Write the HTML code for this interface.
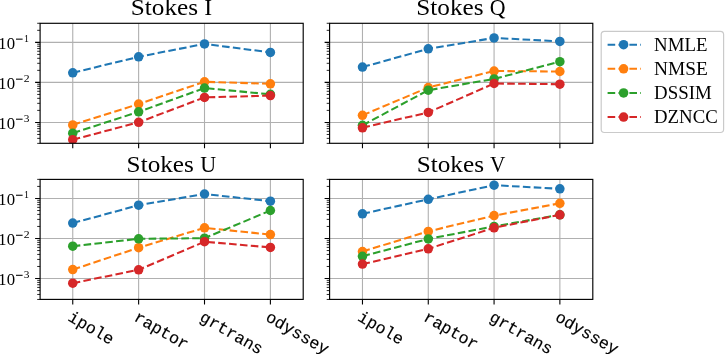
<!DOCTYPE html>
<html><head><meta charset="utf-8"><style>
html,body{margin:0;padding:0;background:#fff;}
body{width:725px;height:354px;overflow:hidden;font-family:"Liberation Sans",sans-serif;}
svg{display:block;}
svg{will-change:transform;}
</style></head><body>
<svg width="725" height="354" viewBox="0 0 725 354">
<rect width="725" height="354" fill="#fff"/>
<path d="M72.75 23.30V143.30M138.63 23.30V143.30M204.51 23.30V143.30M270.39 23.30V143.30M40.10 42.37H303.20M40.10 82.40H303.20M40.10 122.43H303.20" stroke="#b0b0b0" stroke-width="1.1" fill="none"/>
<clipPath id="cI"><rect x="40.1" y="23.3" width="263.10" height="120.00"/></clipPath>
<g clip-path="url(#cI)">
<polyline points="72.75,72.80 138.63,56.80 204.51,43.90 270.39,52.40" fill="none" stroke="#1f77b4" stroke-width="2.06" stroke-dasharray="7.6 3.3"/>
<circle cx="72.75" cy="72.80" r="4.75" fill="#1f77b4"/>
<circle cx="138.63" cy="56.80" r="4.75" fill="#1f77b4"/>
<circle cx="204.51" cy="43.90" r="4.75" fill="#1f77b4"/>
<circle cx="270.39" cy="52.40" r="4.75" fill="#1f77b4"/>
<polyline points="72.75,124.90 138.63,104.00 204.51,81.80 270.39,83.80" fill="none" stroke="#ff7f0e" stroke-width="2.06" stroke-dasharray="7.6 3.3"/>
<circle cx="72.75" cy="124.90" r="4.75" fill="#ff7f0e"/>
<circle cx="138.63" cy="104.00" r="4.75" fill="#ff7f0e"/>
<circle cx="204.51" cy="81.80" r="4.75" fill="#ff7f0e"/>
<circle cx="270.39" cy="83.80" r="4.75" fill="#ff7f0e"/>
<polyline points="72.75,133.20 138.63,111.80 204.51,88.10 270.39,94.30" fill="none" stroke="#2ca02c" stroke-width="2.06" stroke-dasharray="7.6 3.3"/>
<circle cx="72.75" cy="133.20" r="4.75" fill="#2ca02c"/>
<circle cx="138.63" cy="111.80" r="4.75" fill="#2ca02c"/>
<circle cx="204.51" cy="88.10" r="4.75" fill="#2ca02c"/>
<circle cx="270.39" cy="94.30" r="4.75" fill="#2ca02c"/>
<polyline points="72.75,139.70 138.63,122.30 204.51,97.40 270.39,95.60" fill="none" stroke="#d62728" stroke-width="2.06" stroke-dasharray="7.6 3.3"/>
<circle cx="72.75" cy="139.70" r="4.75" fill="#d62728"/>
<circle cx="138.63" cy="122.30" r="4.75" fill="#d62728"/>
<circle cx="204.51" cy="97.40" r="4.75" fill="#d62728"/>
<circle cx="270.39" cy="95.60" r="4.75" fill="#d62728"/>
</g>
<rect x="40.10" y="23.30" width="263.10" height="120.00" fill="none" stroke="#000" stroke-width="1.15"/>
<path d="M72.75 143.30v5.0M138.63 143.30v5.0M204.51 143.30v5.0M270.39 143.30v5.0M40.10 42.37h-5.0M40.10 82.40h-5.0M40.10 122.43h-5.0" stroke="#000" stroke-width="1.1" fill="none"/>
<path d="M40.10 143.36h-2.9M40.10 138.36h-2.9M40.10 134.48h-2.9M40.10 131.31h-2.9M40.10 128.63h-2.9M40.10 126.31h-2.9M40.10 124.26h-2.9M40.10 110.38h-2.9M40.10 103.33h-2.9M40.10 98.33h-2.9M40.10 94.45h-2.9M40.10 91.28h-2.9M40.10 88.60h-2.9M40.10 86.28h-2.9M40.10 84.23h-2.9M40.10 70.35h-2.9M40.10 63.30h-2.9M40.10 58.30h-2.9M40.10 54.42h-2.9M40.10 51.25h-2.9M40.10 48.57h-2.9M40.10 46.25h-2.9M40.10 44.20h-2.9M40.10 30.32h-2.9M40.10 23.27h-2.9" stroke="#000" stroke-width="0.85" fill="none"/>
<path d="M362.47 23.30V143.30M428.27 23.30V143.30M494.07 23.30V143.30M559.87 23.30V143.30M329.60 42.37H592.80M329.60 82.40H592.80M329.60 122.43H592.80" stroke="#b0b0b0" stroke-width="1.1" fill="none"/>
<clipPath id="cQ"><rect x="329.6" y="23.3" width="263.20" height="120.00"/></clipPath>
<g clip-path="url(#cQ)">
<polyline points="362.47,67.10 428.27,48.80 494.07,37.90 559.87,41.40" fill="none" stroke="#1f77b4" stroke-width="2.06" stroke-dasharray="7.6 3.3"/>
<circle cx="362.47" cy="67.10" r="4.75" fill="#1f77b4"/>
<circle cx="428.27" cy="48.80" r="4.75" fill="#1f77b4"/>
<circle cx="494.07" cy="37.90" r="4.75" fill="#1f77b4"/>
<circle cx="559.87" cy="41.40" r="4.75" fill="#1f77b4"/>
<polyline points="362.47,115.30 428.27,87.50 494.07,71.00 559.87,71.50" fill="none" stroke="#ff7f0e" stroke-width="2.06" stroke-dasharray="7.6 3.3"/>
<circle cx="362.47" cy="115.30" r="4.75" fill="#ff7f0e"/>
<circle cx="428.27" cy="87.50" r="4.75" fill="#ff7f0e"/>
<circle cx="494.07" cy="71.00" r="4.75" fill="#ff7f0e"/>
<circle cx="559.87" cy="71.50" r="4.75" fill="#ff7f0e"/>
<polyline points="362.47,125.30 428.27,90.20 494.07,78.90 559.87,61.70" fill="none" stroke="#2ca02c" stroke-width="2.06" stroke-dasharray="7.6 3.3"/>
<circle cx="362.47" cy="125.30" r="4.75" fill="#2ca02c"/>
<circle cx="428.27" cy="90.20" r="4.75" fill="#2ca02c"/>
<circle cx="494.07" cy="78.90" r="4.75" fill="#2ca02c"/>
<circle cx="559.87" cy="61.70" r="4.75" fill="#2ca02c"/>
<polyline points="362.47,127.80 428.27,112.40 494.07,83.50 559.87,84.20" fill="none" stroke="#d62728" stroke-width="2.06" stroke-dasharray="7.6 3.3"/>
<circle cx="362.47" cy="127.80" r="4.75" fill="#d62728"/>
<circle cx="428.27" cy="112.40" r="4.75" fill="#d62728"/>
<circle cx="494.07" cy="83.50" r="4.75" fill="#d62728"/>
<circle cx="559.87" cy="84.20" r="4.75" fill="#d62728"/>
</g>
<rect x="329.60" y="23.30" width="263.20" height="120.00" fill="none" stroke="#000" stroke-width="1.15"/>
<path d="M362.47 143.30v5.0M428.27 143.30v5.0M494.07 143.30v5.0M559.87 143.30v5.0M329.60 42.37h-5.0M329.60 82.40h-5.0M329.60 122.43h-5.0" stroke="#000" stroke-width="1.1" fill="none"/>
<path d="M329.60 143.36h-2.9M329.60 138.36h-2.9M329.60 134.48h-2.9M329.60 131.31h-2.9M329.60 128.63h-2.9M329.60 126.31h-2.9M329.60 124.26h-2.9M329.60 110.38h-2.9M329.60 103.33h-2.9M329.60 98.33h-2.9M329.60 94.45h-2.9M329.60 91.28h-2.9M329.60 88.60h-2.9M329.60 86.28h-2.9M329.60 84.23h-2.9M329.60 70.35h-2.9M329.60 63.30h-2.9M329.60 58.30h-2.9M329.60 54.42h-2.9M329.60 51.25h-2.9M329.60 48.57h-2.9M329.60 46.25h-2.9M329.60 44.20h-2.9M329.60 30.32h-2.9M329.60 23.27h-2.9" stroke="#000" stroke-width="0.85" fill="none"/>
<path d="M72.75 179.40V299.40M138.63 179.40V299.40M204.51 179.40V299.40M270.39 179.40V299.40M40.10 198.47H303.20M40.10 238.50H303.20M40.10 278.53H303.20" stroke="#b0b0b0" stroke-width="1.1" fill="none"/>
<clipPath id="cU"><rect x="40.1" y="179.4" width="263.10" height="120.00"/></clipPath>
<g clip-path="url(#cU)">
<polyline points="72.75,223.10 138.63,205.20 204.51,194.00 270.39,201.20" fill="none" stroke="#1f77b4" stroke-width="2.06" stroke-dasharray="7.6 3.3"/>
<circle cx="72.75" cy="223.10" r="4.75" fill="#1f77b4"/>
<circle cx="138.63" cy="205.20" r="4.75" fill="#1f77b4"/>
<circle cx="204.51" cy="194.00" r="4.75" fill="#1f77b4"/>
<circle cx="270.39" cy="201.20" r="4.75" fill="#1f77b4"/>
<polyline points="72.75,269.60 138.63,247.70 204.51,227.80 270.39,234.60" fill="none" stroke="#ff7f0e" stroke-width="2.06" stroke-dasharray="7.6 3.3"/>
<circle cx="72.75" cy="269.60" r="4.75" fill="#ff7f0e"/>
<circle cx="138.63" cy="247.70" r="4.75" fill="#ff7f0e"/>
<circle cx="204.51" cy="227.80" r="4.75" fill="#ff7f0e"/>
<circle cx="270.39" cy="234.60" r="4.75" fill="#ff7f0e"/>
<polyline points="72.75,246.20 138.63,238.80 204.51,238.20 270.39,210.50" fill="none" stroke="#2ca02c" stroke-width="2.06" stroke-dasharray="7.6 3.3"/>
<circle cx="72.75" cy="246.20" r="4.75" fill="#2ca02c"/>
<circle cx="138.63" cy="238.80" r="4.75" fill="#2ca02c"/>
<circle cx="204.51" cy="238.20" r="4.75" fill="#2ca02c"/>
<circle cx="270.39" cy="210.50" r="4.75" fill="#2ca02c"/>
<polyline points="72.75,283.20 138.63,269.80 204.51,241.70 270.39,247.40" fill="none" stroke="#d62728" stroke-width="2.06" stroke-dasharray="7.6 3.3"/>
<circle cx="72.75" cy="283.20" r="4.75" fill="#d62728"/>
<circle cx="138.63" cy="269.80" r="4.75" fill="#d62728"/>
<circle cx="204.51" cy="241.70" r="4.75" fill="#d62728"/>
<circle cx="270.39" cy="247.40" r="4.75" fill="#d62728"/>
</g>
<rect x="40.10" y="179.40" width="263.10" height="120.00" fill="none" stroke="#000" stroke-width="1.15"/>
<path d="M72.75 299.40v5.0M138.63 299.40v5.0M204.51 299.40v5.0M270.39 299.40v5.0M40.10 198.47h-5.0M40.10 238.50h-5.0M40.10 278.53h-5.0" stroke="#000" stroke-width="1.1" fill="none"/>
<path d="M40.10 299.46h-2.9M40.10 294.46h-2.9M40.10 290.58h-2.9M40.10 287.41h-2.9M40.10 284.73h-2.9M40.10 282.41h-2.9M40.10 280.36h-2.9M40.10 266.48h-2.9M40.10 259.43h-2.9M40.10 254.43h-2.9M40.10 250.55h-2.9M40.10 247.38h-2.9M40.10 244.70h-2.9M40.10 242.38h-2.9M40.10 240.33h-2.9M40.10 226.45h-2.9M40.10 219.40h-2.9M40.10 214.40h-2.9M40.10 210.52h-2.9M40.10 207.35h-2.9M40.10 204.67h-2.9M40.10 202.35h-2.9M40.10 200.30h-2.9M40.10 186.42h-2.9M40.10 179.37h-2.9" stroke="#000" stroke-width="0.85" fill="none"/>
<path d="M362.47 179.40V299.40M428.27 179.40V299.40M494.07 179.40V299.40M559.87 179.40V299.40M329.60 198.47H592.80M329.60 238.50H592.80M329.60 278.53H592.80" stroke="#b0b0b0" stroke-width="1.1" fill="none"/>
<clipPath id="cV"><rect x="329.6" y="179.4" width="263.20" height="120.00"/></clipPath>
<g clip-path="url(#cV)">
<polyline points="362.47,213.80 428.27,199.30 494.07,185.20 559.87,188.80" fill="none" stroke="#1f77b4" stroke-width="2.06" stroke-dasharray="7.6 3.3"/>
<circle cx="362.47" cy="213.80" r="4.75" fill="#1f77b4"/>
<circle cx="428.27" cy="199.30" r="4.75" fill="#1f77b4"/>
<circle cx="494.07" cy="185.20" r="4.75" fill="#1f77b4"/>
<circle cx="559.87" cy="188.80" r="4.75" fill="#1f77b4"/>
<polyline points="362.47,251.50 428.27,231.40 494.07,215.60 559.87,203.30" fill="none" stroke="#ff7f0e" stroke-width="2.06" stroke-dasharray="7.6 3.3"/>
<circle cx="362.47" cy="251.50" r="4.75" fill="#ff7f0e"/>
<circle cx="428.27" cy="231.40" r="4.75" fill="#ff7f0e"/>
<circle cx="494.07" cy="215.60" r="4.75" fill="#ff7f0e"/>
<circle cx="559.87" cy="203.30" r="4.75" fill="#ff7f0e"/>
<polyline points="362.47,256.30 428.27,238.90 494.07,226.40 559.87,214.80" fill="none" stroke="#2ca02c" stroke-width="2.06" stroke-dasharray="7.6 3.3"/>
<circle cx="362.47" cy="256.30" r="4.75" fill="#2ca02c"/>
<circle cx="428.27" cy="238.90" r="4.75" fill="#2ca02c"/>
<circle cx="494.07" cy="226.40" r="4.75" fill="#2ca02c"/>
<circle cx="559.87" cy="214.80" r="4.75" fill="#2ca02c"/>
<polyline points="362.47,264.10 428.27,248.80 494.07,227.80 559.87,214.80" fill="none" stroke="#d62728" stroke-width="2.06" stroke-dasharray="7.6 3.3"/>
<circle cx="362.47" cy="264.10" r="4.75" fill="#d62728"/>
<circle cx="428.27" cy="248.80" r="4.75" fill="#d62728"/>
<circle cx="494.07" cy="227.80" r="4.75" fill="#d62728"/>
<circle cx="559.87" cy="214.80" r="4.75" fill="#d62728"/>
</g>
<rect x="329.60" y="179.40" width="263.20" height="120.00" fill="none" stroke="#000" stroke-width="1.15"/>
<path d="M362.47 299.40v5.0M428.27 299.40v5.0M494.07 299.40v5.0M559.87 299.40v5.0M329.60 198.47h-5.0M329.60 238.50h-5.0M329.60 278.53h-5.0" stroke="#000" stroke-width="1.1" fill="none"/>
<path d="M329.60 299.46h-2.9M329.60 294.46h-2.9M329.60 290.58h-2.9M329.60 287.41h-2.9M329.60 284.73h-2.9M329.60 282.41h-2.9M329.60 280.36h-2.9M329.60 266.48h-2.9M329.60 259.43h-2.9M329.60 254.43h-2.9M329.60 250.55h-2.9M329.60 247.38h-2.9M329.60 244.70h-2.9M329.60 242.38h-2.9M329.60 240.33h-2.9M329.60 226.45h-2.9M329.60 219.40h-2.9M329.60 214.40h-2.9M329.60 210.52h-2.9M329.60 207.35h-2.9M329.60 204.67h-2.9M329.60 202.35h-2.9M329.60 200.30h-2.9M329.60 186.42h-2.9M329.60 179.37h-2.9" stroke="#000" stroke-width="0.85" fill="none"/>
<text transform="translate(130.81,15.35) scale(1.1085,1)" font-family="'Liberation Serif', serif" font-size="22.8" fill="#000">Stokes</text>
<text transform="translate(204.24,15.35) scale(1.0390,1)" font-family="'Liberation Serif', serif" font-size="22.8" fill="#000">I</text>
<text transform="translate(416.21,15.35) scale(1.1085,1)" font-family="'Liberation Serif', serif" font-size="22.8" fill="#000">Stokes</text>
<text transform="translate(489.80,15.35) scale(0.9577,1)" font-family="'Liberation Serif', serif" font-size="22.8" fill="#000">Q</text>
<text transform="translate(126.61,171.60) scale(1.1068,1)" font-family="'Liberation Serif', serif" font-size="22.8" fill="#000">Stokes</text>
<text transform="translate(200.24,171.60) scale(0.9672,1)" font-family="'Liberation Serif', serif" font-size="22.8" fill="#000">U</text>
<text transform="translate(416.71,171.60) scale(1.1068,1)" font-family="'Liberation Serif', serif" font-size="22.8" fill="#000">Stokes</text>
<text transform="translate(490.06,171.60) scale(0.9340,1)" font-family="'Liberation Serif', serif" font-size="22.8" fill="#000">V</text>
<text transform="translate(-1.75,49.07) scale(0.9468,1)" font-family="'Liberation Serif', serif" font-size="17.4" fill="#000">1</text>
<text transform="translate(6.66,49.07) scale(0.9628,1)" font-family="'Liberation Serif', serif" font-size="17.4" fill="#000">0</text>
<rect x="16.0" y="38.62" width="6.6" height="1.05" fill="#000"/>
<text transform="translate(24.03,41.72) scale(1.0356,1)" font-family="'Liberation Serif', serif" font-size="9.6" fill="#000">1</text>
<text transform="translate(-1.75,89.10) scale(0.9468,1)" font-family="'Liberation Serif', serif" font-size="17.4" fill="#000">1</text>
<text transform="translate(6.66,89.10) scale(0.9628,1)" font-family="'Liberation Serif', serif" font-size="17.4" fill="#000">0</text>
<rect x="16.0" y="78.65" width="6.6" height="1.05" fill="#000"/>
<text transform="translate(23.78,81.75) scale(1.2213,1)" font-family="'Liberation Serif', serif" font-size="9.6" fill="#000">2</text>
<text transform="translate(-1.75,129.13) scale(0.9468,1)" font-family="'Liberation Serif', serif" font-size="17.4" fill="#000">1</text>
<text transform="translate(6.66,129.13) scale(0.9628,1)" font-family="'Liberation Serif', serif" font-size="17.4" fill="#000">0</text>
<rect x="16.0" y="118.68" width="6.6" height="1.05" fill="#000"/>
<text transform="translate(23.76,121.78) scale(1.1852,1)" font-family="'Liberation Serif', serif" font-size="9.6" fill="#000">3</text>
<text transform="translate(-1.75,205.17) scale(0.9468,1)" font-family="'Liberation Serif', serif" font-size="17.4" fill="#000">1</text>
<text transform="translate(6.66,205.17) scale(0.9628,1)" font-family="'Liberation Serif', serif" font-size="17.4" fill="#000">0</text>
<rect x="16.0" y="194.72" width="6.6" height="1.05" fill="#000"/>
<text transform="translate(24.03,197.82) scale(1.0356,1)" font-family="'Liberation Serif', serif" font-size="9.6" fill="#000">1</text>
<text transform="translate(-1.75,245.20) scale(0.9468,1)" font-family="'Liberation Serif', serif" font-size="17.4" fill="#000">1</text>
<text transform="translate(6.66,245.20) scale(0.9628,1)" font-family="'Liberation Serif', serif" font-size="17.4" fill="#000">0</text>
<rect x="16.0" y="234.75" width="6.6" height="1.05" fill="#000"/>
<text transform="translate(23.78,237.85) scale(1.2213,1)" font-family="'Liberation Serif', serif" font-size="9.6" fill="#000">2</text>
<text transform="translate(-1.75,285.23) scale(0.9468,1)" font-family="'Liberation Serif', serif" font-size="17.4" fill="#000">1</text>
<text transform="translate(6.66,285.23) scale(0.9628,1)" font-family="'Liberation Serif', serif" font-size="17.4" fill="#000">0</text>
<rect x="16.0" y="274.78" width="6.6" height="1.05" fill="#000"/>
<text transform="translate(23.76,277.88) scale(1.1852,1)" font-family="'Liberation Serif', serif" font-size="9.6" fill="#000">3</text>
<text transform="translate(67.10,320.00) rotate(30)" font-family="'Liberation Mono', monospace" font-size="16.6" stroke="#000" stroke-width="0.15">ipole</text>
<text transform="translate(132.98,320.00) rotate(30)" font-family="'Liberation Mono', monospace" font-size="16.6" stroke="#000" stroke-width="0.15">raptor</text>
<text transform="translate(198.86,320.00) rotate(30)" font-family="'Liberation Mono', monospace" font-size="16.6" stroke="#000" stroke-width="0.15">grtrans</text>
<text transform="translate(264.74,320.00) rotate(30)" font-family="'Liberation Mono', monospace" font-size="16.6" stroke="#000" stroke-width="0.15">odyssey</text>
<text transform="translate(356.82,320.00) rotate(30)" font-family="'Liberation Mono', monospace" font-size="16.6" stroke="#000" stroke-width="0.15">ipole</text>
<text transform="translate(422.62,320.00) rotate(30)" font-family="'Liberation Mono', monospace" font-size="16.6" stroke="#000" stroke-width="0.15">raptor</text>
<text transform="translate(488.42,320.00) rotate(30)" font-family="'Liberation Mono', monospace" font-size="16.6" stroke="#000" stroke-width="0.15">grtrans</text>
<text transform="translate(554.22,320.00) rotate(30)" font-family="'Liberation Mono', monospace" font-size="16.6" stroke="#000" stroke-width="0.15">odyssey</text>
<rect x="601.2" y="31.4" width="122.40" height="101.10" rx="3.2" ry="3.2" fill="#fff" fill-opacity="0.8" stroke="#cacaca" stroke-width="1.2"/>
<line x1="607.6" y1="44.70" x2="641.0" y2="44.70" stroke="#1f77b4" stroke-width="2.06" stroke-dasharray="7.6 3.3"/>
<circle cx="623.6" cy="44.70" r="4.75" fill="#1f77b4"/>
<text transform="translate(654.06,51.10) scale(1.0023,1)" font-family="'Liberation Serif', serif" font-size="18.8" fill="#000">NMLE</text>
<line x1="607.6" y1="68.83" x2="641.0" y2="68.83" stroke="#ff7f0e" stroke-width="2.06" stroke-dasharray="7.6 3.3"/>
<circle cx="623.6" cy="68.83" r="4.75" fill="#ff7f0e"/>
<text transform="translate(654.04,75.23) scale(1.0305,1)" font-family="'Liberation Serif', serif" font-size="18.8" fill="#000">NMSE</text>
<line x1="607.6" y1="92.96" x2="641.0" y2="92.96" stroke="#2ca02c" stroke-width="2.06" stroke-dasharray="7.6 3.3"/>
<circle cx="623.6" cy="92.96" r="4.75" fill="#2ca02c"/>
<text transform="translate(654.06,99.36) scale(1.0040,1)" font-family="'Liberation Serif', serif" font-size="18.8" fill="#000">DSSIM</text>
<line x1="607.6" y1="117.09" x2="641.0" y2="117.09" stroke="#d62728" stroke-width="2.06" stroke-dasharray="7.6 3.3"/>
<circle cx="623.6" cy="117.09" r="4.75" fill="#d62728"/>
<text transform="translate(654.06,123.49) scale(0.9994,1)" font-family="'Liberation Serif', serif" font-size="18.8" fill="#000">DZNCC</text>
</svg>
</body></html>
